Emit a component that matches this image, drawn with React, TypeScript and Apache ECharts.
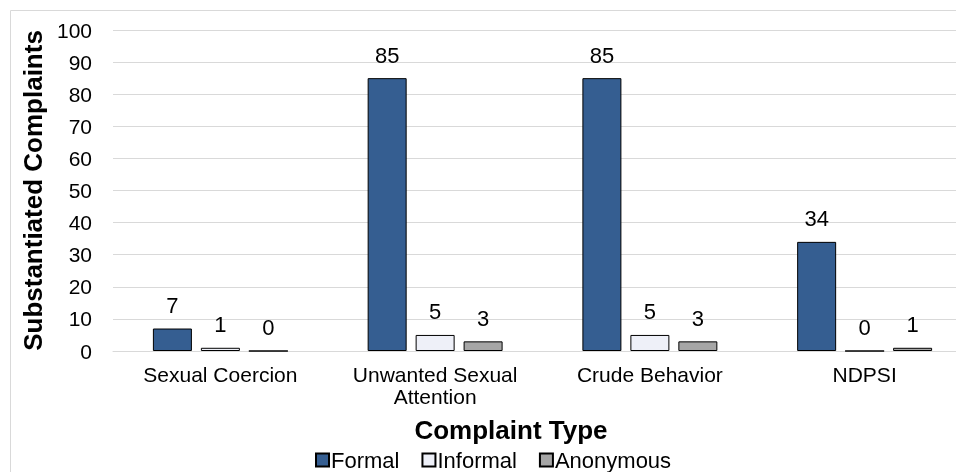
import React, { useEffect, useRef } from "react";
import * as echarts from "echarts";

const categories = ["Sexual Coercion", "Unwanted Sexual\nAttention", "Crude Behavior", "NDPSI"];
const formal = [7, 85, 85, 34];
const informal = [1, 5, 5, 0];
const anonymous = [0, 3, 3, 1];
const seriesNames = ["Formal", "Informal", "Anonymous"];
const colors = ["#355E91", "#EEF0F8", "#A6A6A6"];
const xTitle = "Complaint Type";
const yTitle = "Substantiated Complaints";

export default function App() {
  const ref = useRef<HTMLDivElement>(null);
  useEffect(() => {
    const chart = echarts.init(ref.current!, null, { renderer: "svg" });
    const font = "Arial, 'Liberation Sans', sans-serif";
    const data = [formal, informal, anonymous];
    chart.setOption({
      animation: false,
      textStyle: { fontFamily: font },
      graphic: [
        {
          type: "rect",
          shape: { x: 10.5, y: 10.5, width: 1000, height: 500 },
          style: { fill: "none", stroke: "#D9D9D9", lineWidth: 1 },
          silent: true,
          z: -10,
        },
        {
          type: "text",
          x: 511,
          y: 430,
          style: {
            text: xTitle,
            textAlign: "center",
            textVerticalAlign: "middle",
            fontSize: 26,
            fontWeight: "bold",
            fill: "#000",
            fontFamily: font,
          },
        },
      ],
      grid: {
        left: 113,
        top: 30,
        bottom: 121,
        width: 859,
        outerBoundsMode: "none",
        containLabel: false,
      },
      legend: {
        top: 444,
        left: 310,
        itemWidth: 13,
        itemHeight: 13,
        itemGap: 22,
        icon: "rect",
        textStyle: { fontSize: 22, color: "#000", fontFamily: font, padding: [0, 0, 0, -3] },
        data: seriesNames,
      },
      xAxis: {
        type: "category",
        data: categories,
        axisLine: { lineStyle: { color: "#D9D9D9" } },
        axisTick: { show: false },
        axisLabel: {
          interval: 0,
          fontSize: 21,
          color: "#000",
          margin: 12,
          lineHeight: 22,
          fontFamily: font,
        },
      },
      yAxis: {
        type: "value",
        min: 0,
        max: 100,
        interval: 10,
        name: yTitle,
        nameLocation: "middle",
        nameGap: 66,
        nameTextStyle: { fontSize: 26, fontWeight: "bold", color: "#000", fontFamily: font },
        axisLine: { show: false },
        axisTick: { show: false },
        splitLine: { lineStyle: { color: "#D9D9D9", width: 1 } },
        axisLabel: { fontSize: 21, color: "#000", margin: 21, fontFamily: font },
      },
      series: seriesNames.map((name, i) => ({
        name,
        type: "bar",
        data: data[i],
        barWidth: 39,
        barGap: "23%",
        itemStyle: { color: colors[i], borderColor: "#000", borderWidth: 1 },
        label: {
          show: true,
          position: "top",
          distance: 12,
          fontSize: 22,
          color: "#000",
          fontFamily: font,
        },
      })),
    });
    return () => chart.dispose();
  }, []);
  return <div ref={ref} style={{ position: "fixed", left: 0, top: 0, width: 956, height: 472 }} />;
}
